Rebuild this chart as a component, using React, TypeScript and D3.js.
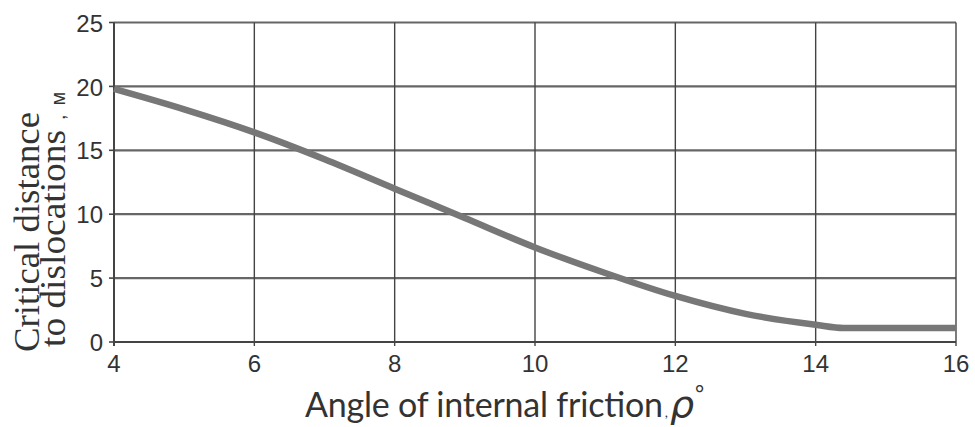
import React from "react";
import * as d3 from "d3";

const angles = [4, 5, 6, 7, 8, 9, 10, 11, 12, 13, 14, 14.4, 15, 16];
const distances = [19.8, 18.2, 16.4, 14.3, 12.0, 9.7, 7.4, 5.4, 3.6, 2.2, 1.35, 1.1, 1.1, 1.1];
const xTicks = [4, 6, 8, 10, 12, 14, 16];
const yTicks = [0, 5, 10, 15, 20, 25];

const W = 975;
const H = 427;

export default function App() {
  const x = d3.scaleLinear().domain([4, 16]).range([114, 956]);
  const y = d3.scaleLinear().domain([0, 25]).range([342, 22.5]);
  const line = d3
    .line<number>()
    .x((_, i) => x(angles[i]))
    .y((d) => y(d))
    .curve(d3.curveMonotoneX);
  const path = line(distances) || "";

  return (
    <svg
      width={W}
      height={H}
      viewBox={`0 0 ${W} ${H}`}
      style={{ position: "absolute", left: 0, top: 0, background: "#fff" }}
    >
      <rect x={0} y={0} width={W} height={H} fill="#fff" />
      {yTicks.map((t) => (
        <line
          key={"h" + t}
          x1={x(4)}
          x2={x(16)}
          y1={y(t)}
          y2={y(t)}
          stroke="#666"
          strokeWidth={2.2}
        />
      ))}
      {xTicks.map((t) => (
        <line
          key={"v" + t}
          x1={x(t)}
          x2={x(t)}
          y1={y(25)}
          y2={y(0) + 4}
          stroke="#444"
          strokeWidth={1.4}
        />
      ))}
      {yTicks.map((t) => (
        <line
          key={"yt" + t}
          x1={x(4) - 5}
          x2={x(4)}
          y1={y(t)}
          y2={y(t)}
          stroke="#444"
          strokeWidth={1.6}
        />
      ))}
      <line x1={x(4)} x2={x(4)} y1={y(25)} y2={y(0) + 4} stroke="#444" strokeWidth={2} />
      <line x1={x(4)} x2={x(16)} y1={y(0)} y2={y(0)} stroke="#444" strokeWidth={2} />

      <path d={path} fill="none" stroke="#777" strokeWidth={6.5} strokeLinecap="butt" />

      {yTicks.map((t) => (
        <text
          key={"yl" + t}
          x={103}
          y={y(t)}
          dy="0.38em"
          textAnchor="end"
          fontFamily="'Liberation Sans', Arial, sans-serif"
          fontSize={24}
          fill="#333"
        >
          {t}
        </text>
      ))}
      {xTicks.map((t) => (
        <text
          key={"xl" + t}
          x={x(t)}
          y={372}
          textAnchor="middle"
          fontFamily="'Liberation Sans', Arial, sans-serif"
          fontSize={24}
          fill="#333"
        >
          {t}
        </text>
      ))}

      <text
        transform="translate(39,352) rotate(-90)"
        fontFamily="'Liberation Serif', 'Times New Roman', serif"
        fontSize={36}
        fill="#333"
        textLength={240}
        lengthAdjust="spacingAndGlyphs"
      >
        Critical distance
      </text>
      <text
        transform="translate(65,347) rotate(-90)"
        fontFamily="'Liberation Serif', 'Times New Roman', serif"
        fontSize={36}
        fill="#333"
      >
        <tspan textLength={217} lengthAdjust="spacingAndGlyphs">to dislocations</tspan>
        <tspan fontFamily="'Liberation Sans', Arial, sans-serif" fontSize={20} dx={10}>
          ,
        </tspan>
        <tspan fontFamily="'Liberation Sans', Arial, sans-serif" fontSize={20} dx={9}>
          м
        </tspan>
      </text>

      <text
        x={305}
        y={417}
        fontFamily="Lato, 'Open Sans', sans-serif"
        fontSize={34}
        fill="#333"
      >
        <tspan textLength={358} lengthAdjust="spacing">Angle of internal friction</tspan>
        <tspan fontSize={14} dx={2}>,</tspan>
        <tspan
          fontFamily="'DejaVu Sans', sans-serif"
          fontStyle="italic"
          fontSize={38}
          dx={2}
        >
          ρ
        </tspan>
        <tspan fontSize={22} dy={-16} dx={1}>°</tspan>
      </text>
    </svg>
  );
}
